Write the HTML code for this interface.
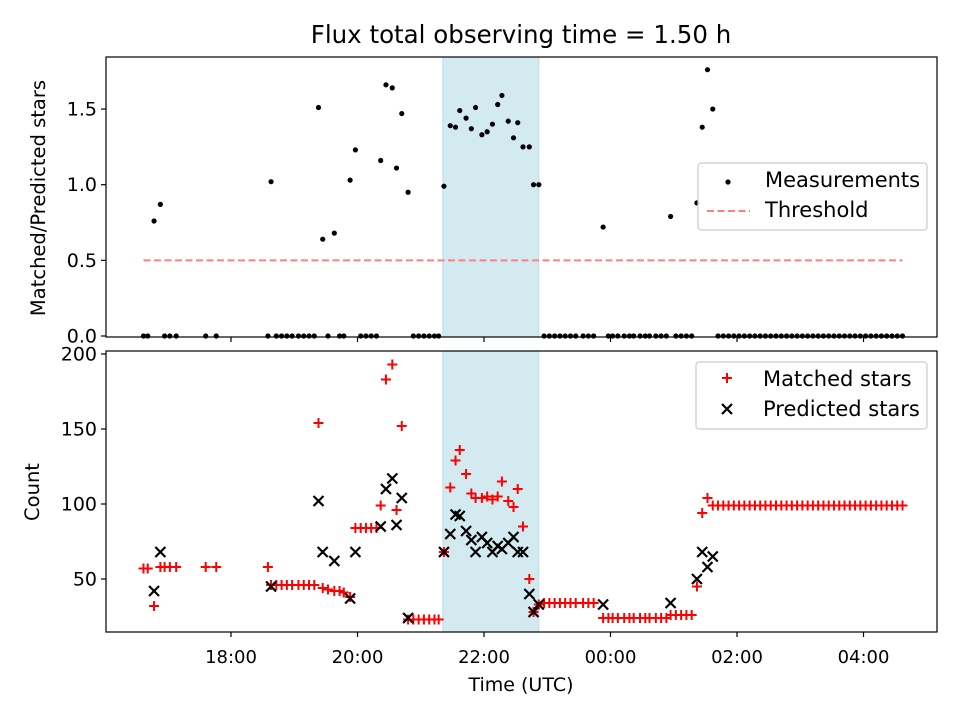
<!DOCTYPE html>
<html><head><meta charset="utf-8"><style>
html,body{margin:0;padding:0;background:#fff}
svg{display:block;font-family:"DejaVu Sans","Liberation Sans",sans-serif}
</style></head><body>
<svg id="c" width="960" height="720" viewBox="0 0 960 720"></svg>
<script>
// observation times: minutes since 16:00 UTC
const obsMin=[37,41,47,53,57,62,68,96,106,155,158,163,168,173,178,184,189,194,199,203,207,212,218,223,227,233,238,243,248,253,258,262,267,273,277,282,288,293,298,303,308,313,317,322,328,333,337,343,348,352,358,363,368,373,377,383,388,392,397,403,407,412,417,422,427,432,437,442,447,454,459,464,473,478,482,487,493,498,502,508,513,517,523,528,533,537,542,547,552,557,562,567,572,577,582,587,592,597,602,607,612,617,622,627,632,637,642,647,652,657,662,667,672,677,682,687,692,697,702,707,712,717,722,727,732,737,742,747,752,757];
const matched=[57,57,32,58,58,58,58,58,58,58,46,46,46,46,46,46,46,46,46,154,44,43,42,42,41,38,84,84,84,84,84,99,183,193,96,152,23,23,23,23,23,23,23,68,111,129,136,120,107,104,104,105,103,105,115,102,98,110,85,50,28,33,34,34,34,34,34,34,34,34,34,34,24,24,24,24,24,24,24,24,24,24,24,24,24,26,26,26,26,26,45,94,104,99,99,99,99,99,99,99,99,99,99,99,99,99,99,99,99,99,99,99,99,99,99,99,99,99,99,99,99,99,99,99,99,99,99,99,99,99,99,99];
const predicted=[null,null,42,68,null,null,null,null,null,null,45,null,null,null,null,null,null,null,null,102,68,null,62,null,null,37,68,null,null,null,null,85,110,117,86,104,24,null,null,null,null,null,null,68,80,93,92,82,76,68,78,74,68,72,70,74,78,68,68,40,28,33,null,null,null,null,null,null,null,null,null,null,33,null,null,null,null,null,null,null,null,null,null,null,null,34,null,null,null,null,50,68,58,65,null,null,null,null,null,null,null,null,null,null,null,null,null,null,null,null,null,null,null,null,null,null,null,null,null,null,null,null,null,null,null,null,null,null,null,null,null,null];
const ratio=[0,0,0.76,0.87,0,0,0,0,0,0,1.02,0,0,0,0,0,0,0,0,1.51,0.64,0,0.68,0,0,1.03,1.23,0,0,0,0,1.16,1.66,1.64,1.11,1.47,0.95,0,0,0,0,0,0,0.99,1.39,1.38,1.49,1.44,1.37,1.51,1.33,1.35,1.40,1.53,1.59,1.42,1.31,1.41,1.25,1.25,1.00,1.00,0,0,0,0,0,0,0,0,0,0,0.72,0,0,0,0,0,0,0,0,0,0,0,0,0.79,0,0,0,0,0.88,1.38,1.76,1.50,0,0,0,0,0,0,0,0,0,0,0,0,0,0,0,0,0,0,0,0,0,0,0,0,0,0,0,0,0,0,0,0,0,0,0,0,0,0];
const threshold=0.5;
const shadeMin=[321,412];
const xTickMin=[120,240,360,480,600,720];
const xTickLabels=["18:00","20:00","22:00","00:00","02:00","04:00"];
const topTicks=[0,0.5,1.0,1.5];
const botTicks=[50,100,150,200];

const NS="http://www.w3.org/2000/svg";
const svg=document.getElementById('c');
function mk(tag,at,parent){const e=document.createElementNS(NS,tag);for(const k in at)e.setAttribute(k,at[k]);(parent||svg).appendChild(e);return e;}
const L=106,R=937,T1=57,B1=337,T2=351,B2=632;
const FS=18, LFS=21;
const X=m=>231+(m-120)*63.25/60;
const Y1=v=>336-v*151.3;
const Y2=v=>579-(v-50)*1.5;

let t=mk('text',{x:521,y:43,'font-size':24.5,'text-anchor':'middle',fill:'#000'});t.textContent="Flux total observing time = 1.50 h";



function panel(top,bot,name){
  const g=mk('g',{});
  
  
  const sh=mk('rect',{x:X(shadeMin[0]),y:top,width:X(shadeMin[1])-X(shadeMin[0]),height:bot-top,fill:'#d4eaf1',stroke:'#b9dde8','stroke-width':1},g);
  
  
  return g;
}
const g1=panel(T1,B1,'ratio-panel');
const th=mk('line',{x1:X(obsMin[0]),x2:X(obsMin[obsMin.length-1]),y1:Y1(threshold),y2:Y1(threshold),stroke:'#ff7f7f','stroke-width':2,'stroke-dasharray':'7,3.5'},g1);


obsMin.forEach((m,i)=>{
  const c=mk('circle',{cx:X(m),cy:Y1(ratio[i]),r:2.6,fill:'#000'},g1);
  
  
});
const g2=panel(T2,B2,'count-panel');
obsMin.forEach((m,i)=>{
  const x=X(m),y=Y2(matched[i]);
  const p=mk('path',{d:`M${x-5},${y}H${x+5}M${x},${y-5}V${y+5}`,stroke:'#ff0000','stroke-width':2,fill:'none'},g2);
  
  
});
obsMin.forEach((m,i)=>{
  if(predicted[i]==null)return;
  const x=X(m),y=Y2(predicted[i]);
  const p=mk('path',{d:`M${x-5},${y-5}L${x+5},${y+5}M${x-5},${y+5}L${x+5},${y-5}`,stroke:'#000','stroke-width':2.2,fill:'none'},g2);
  
  
});
[[T1,B1,'ratio-axes-frame'],[T2,B2,'count-axes-frame']].forEach(([a,b,n])=>{
  const r=mk('rect',{x:L,y:a,width:R-L,height:b-a,fill:'none',stroke:'#000','stroke-width':1.2});
  
  
});
xTickMin.forEach((m,i)=>{
  const x=X(m);
  mk('line',{x1:x,x2:x,y1:B1,y2:B1+5,stroke:'#000','stroke-width':1.2});
  mk('line',{x1:x,x2:x,y1:B2,y2:B2+5,stroke:'#000','stroke-width':1.2});
  const tx=mk('text',{x:x,y:B2+31,'font-size':FS,'text-anchor':'middle'});tx.textContent=xTickLabels[i];
  
  
});
topTicks.forEach(v=>{
  const y=Y1(v);mk('line',{x1:L-5,x2:L,y1:y,y2:y,stroke:'#000','stroke-width':1.2});
  const tx=mk('text',{x:L-9,y:y+6.5,'font-size':FS+1,'text-anchor':'end'});tx.textContent=v.toFixed(1);
  
  
});
botTicks.forEach(v=>{
  const y=Y2(v);mk('line',{x1:L-5,x2:L,y1:y,y2:y,stroke:'#000','stroke-width':1.2});
  const tx=mk('text',{x:L-9,y:y+6.5,'font-size':FS+1,'text-anchor':'end'});tx.textContent=v;
  
  
});
let a=mk('text',{x:0,y:0,'font-size':19.5,'text-anchor':'middle',transform:'translate(45,198) rotate(-90)'});a.textContent="Matched/Predicted stars";


a=mk('text',{x:0,y:0,'font-size':19.5,'text-anchor':'middle',transform:'translate(39,492) rotate(-90)'});a.textContent="Count";


a=mk('text',{x:521,y:691,'font-size':19,'text-anchor':'middle'});a.textContent="Time (UTC)";


function legendBox(x,y,w,h,name){const r=mk('rect',{x,y,width:w,height:h,rx:3,fill:'#fff','fill-opacity':0.8,stroke:'#ccc','stroke-width':1.2});}
legendBox(698,163,229,67,'ratio-legend');
mk('circle',{cx:728,cy:182,r:2.6,fill:'#000'});
let lt=mk('text',{x:765,y:187,'font-size':LFS});lt.textContent="Measurements";


mk('line',{x1:707,x2:750,y1:211,y2:211,stroke:'#ff7f7f','stroke-width':2,'stroke-dasharray':'7,3.5'});
lt=mk('text',{x:765,y:217,'font-size':LFS});lt.textContent="Threshold";


legendBox(696,362,231,67,'count-legend');
mk('path',{d:'M722,378H732M727,373V383',stroke:'#f00','stroke-width':2});
lt=mk('text',{x:763,y:386,'font-size':LFS});lt.textContent="Matched stars";


mk('path',{d:'M722,404L732,414M722,414L732,404',stroke:'#000','stroke-width':2.2});
lt=mk('text',{x:763,y:416,'font-size':LFS});lt.textContent="Predicted stars";


</script>
</body></html>
